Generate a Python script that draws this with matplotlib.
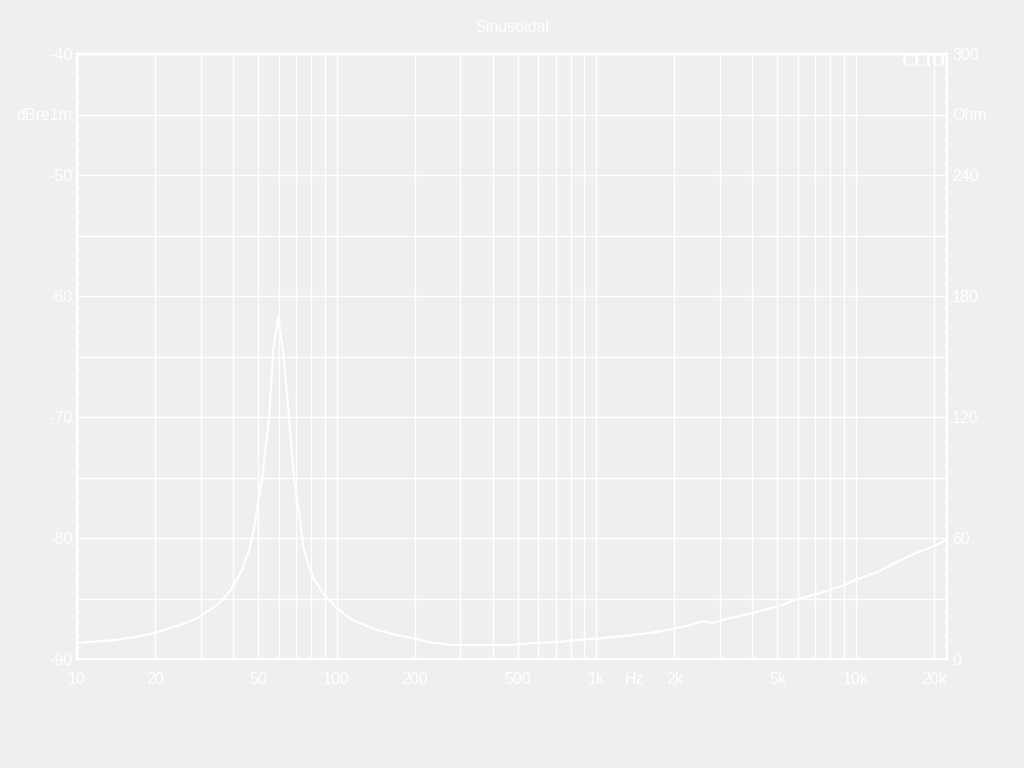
import matplotlib
matplotlib.use("Agg")
import matplotlib.pyplot as plt
import matplotlib.transforms as mtransforms
from matplotlib.ticker import FixedLocator, NullFormatter

# ---- data (impedance curve) ----
freq_hz = [10, 14, 17.5, 20, 25, 28, 30, 34.6, 37.8, 40, 43.2, 46.4, 48.5, 50,
           51.6, 55, 57, 59.5, 62.2, 65.6, 68.6, 70.5, 72.3, 74.4, 77.6, 81,
           88.6, 100, 115, 143, 176, 200, 230, 284, 465, 570, 706, 843, 1030,
           1200, 1390, 1620, 2000, 2300, 2580, 2800, 3170, 4000, 5000, 6000,
           7000, 8000, 9000, 10000, 12100, 13900, 15800, 17100, 18800, 20000,
           22000, 22500]
impedance_ohm = [7.9, 9.4, 11.4, 13.0, 16.9, 19.3, 21.3, 26.8, 31.7, 36.2, 44.0,
                 55.5, 67.4, 78.8, 88.8, 120, 153, 169.6, 153, 120, 88.8, 78.8,
                 68.9, 55.5, 47.6, 40.7, 32.7, 25.3, 19.3, 14.4, 11.4, 10.2, 8.2,
                 6.9, 6.9, 7.9, 8.4, 9.4, 10.2, 11.0, 11.9, 12.9, 15.0, 16.8,
                 18.8, 17.9, 19.8, 22.8, 26.0, 29.8, 32.0, 34.5, 36.5, 39.2, 43.1,
                 47.1, 50.6, 52.6, 54.5, 56.0, 58.5, 59.0]

x_ticks = [10, 20, 50, 100, 200, 500, 1000, 2000, 5000, 10000, 20000]
x_ticklabels = ["10", "20", "50", "100", "200", "500", "1k", "2k", "5k", "10k", "20k"]
left_ticks = [-90, -85, -80, -75, -70, -65, -60, -55, -50, -45, -40]
left_ticklabels = ["-90", "", "-80", "", "-70", "", "-60", "", "-50", "dBre1m", "-40"]
right_ticks = [0, 30, 60, 90, 120, 150, 180, 210, 240, 270, 300]
right_ticklabels = ["0", "", "60", "", "120", "", "180", "", "240", "Ohm", "300"]
title = "Sinusoidal"

BG = "#efefef"
FG = "white"
FS = 11.5
plt.rcParams["font.family"] = ["Liberation Sans", "DejaVu Sans"]

fig = plt.figure(figsize=(10.24, 7.68), dpi=100, facecolor=BG)
L, R = 77 / 1024, 947 / 1024
B, T = 1 - 659 / 768, 1 - 54 / 768
ax = fig.add_axes([L, B, R - L, T - B])
ax.set_facecolor(BG)
ax.set_xscale("log")
ax.set_xlim(10, 22500)
ax.set_ylim(-90, -40)

grid_freqs = [m * 10 ** e for e in range(1, 5) for m in range(1, 10) if m * 10 ** e <= 20000]
ax.xaxis.set_major_locator(FixedLocator(x_ticks))
ax.set_xticklabels(x_ticklabels)
ax.xaxis.set_minor_locator(FixedLocator(grid_freqs))
ax.xaxis.set_minor_formatter(NullFormatter())
ax.tick_params(axis="x", which="both", length=0, pad=9.4, labelsize=FS, labelcolor=FG)
ax.grid(True, axis="x", which="both", color=FG, linewidth=1.0)

ax.yaxis.set_major_locator(FixedLocator(left_ticks))
ax.set_yticklabels(left_ticklabels)
ax.yaxis.set_minor_locator(FixedLocator(list(range(-90, -39))))
ax.tick_params(axis="y", which="major", length=0, pad=3.6, labelsize=FS, labelcolor=FG)
ax.tick_params(axis="y", which="minor", direction="in", length=3, width=1, color=FG)
ax.grid(True, axis="y", which="major", color=FG, linewidth=1.0)
for s in ax.spines.values():
    s.set_color(FG)
    s.set_linewidth(1.6)

ax2 = ax.twinx()
ax2.set_ylim(0, 300)
ax2.yaxis.set_major_locator(FixedLocator(right_ticks))
ax2.set_yticklabels(right_ticklabels)
ax2.yaxis.set_minor_locator(FixedLocator(list(range(0, 301, 6))))
ax2.tick_params(axis="y", which="major", length=0, pad=3.6, labelsize=FS, labelcolor=FG)
ax2.tick_params(axis="y", which="minor", direction="in", length=3, width=1, color=FG)
for s in ax2.spines.values():
    s.set_color(FG)
    s.set_linewidth(1.6)
ax2.plot(freq_hz, impedance_ohm, color=FG, linewidth=1.6, solid_joinstyle="round")

hz_tr = ax.get_xaxis_transform() + mtransforms.ScaledTranslation(0, -9.4 / 72, fig.dpi_scale_trans)
ax.text(1400, 0, "Hz", transform=hz_tr, ha="center", va="top", fontsize=FS, color=FG)

fig.text(0.5, 1 - 27 / 768, title, ha="center", va="center", fontsize=FS, color=FG)
ax.text(0.998, 1 - 8 / 605, "CLIO", transform=ax.transAxes, ha="right", va="center",
        fontsize=12.5, fontweight="bold", family="Liberation Serif", color=FG)

fig.savefig("out.png", dpi=100, facecolor=BG)
